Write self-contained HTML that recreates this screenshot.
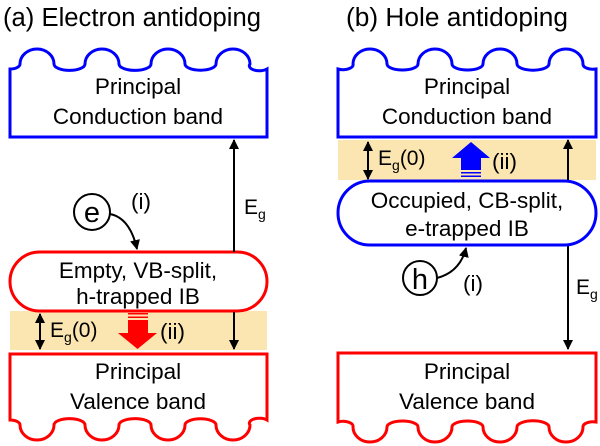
<!DOCTYPE html>
<html><head><meta charset="utf-8"><style>
html,body{margin:0;padding:0;background:#fff;}
svg{display:block;font-family:"Liberation Sans",sans-serif;}
</style></head><body>
<svg width="600" height="446" viewBox="0 0 600 446" xmlns="http://www.w3.org/2000/svg">
<defs>
<marker id="ah" viewBox="0 0 10 10" refX="9" refY="5" markerWidth="10" markerHeight="10" markerUnits="userSpaceOnUse" orient="auto"><path d="M0,0 L10,5 L0,10 z" fill="#000"/></marker>
</defs>
<!-- titles -->
<text x="3" y="26" font-size="25.5" textLength="258" lengthAdjust="spacingAndGlyphs">(a) Electron antidoping</text>
<text x="346" y="26" font-size="25.5" textLength="222" lengthAdjust="spacingAndGlyphs">(b) Hole antidoping</text>

<!-- yellow bands -->
<rect x="10" y="311" width="257" height="39" fill="#fbe5b0"/>
<rect x="338" y="140" width="258" height="40" fill="#fbe5b0"/>

<!-- (a) CB -->
<path d="M10,137 L10,69 A10,5 0 0 0 20,64 A17,15 0 0 1 54,64 A14.5,6 0 0 0 85,64 A17,15 0 0 1 119,64 A15,6 0 0 0 151,64 A17,15 0 0 1 185,64 A15,6 0 0 0 216,64 A17,15 0 0 1 250,64 A10,5 0 0 0 267,69 L267,137 Z" fill="#fff" stroke="#0000ff" stroke-width="3"/>
<text x="138" y="94" font-size="22.5" text-anchor="middle">Principal</text>
<text x="138" y="124" font-size="22.5" text-anchor="middle">Conduction band</text>

<!-- (a) IB -->
<rect x="10" y="252" width="257" height="59" rx="29.5" fill="#fff" stroke="#ff0000" stroke-width="3"/>
<text x="138" y="278" font-size="22.5" text-anchor="middle">Empty, VB-split,</text>
<text x="138" y="304" font-size="22.5" text-anchor="middle">h-trapped IB</text>

<!-- (a) VB -->
<path d="M10,354 L10,420 A10,5 0 0 1 20,425 A17,15 0 0 0 54,425 A14.5,6 0 0 1 85,425 A17,15 0 0 0 119,425 A15,6 0 0 1 151,425 A17,15 0 0 0 185,425 A15,6 0 0 1 216,425 A17,15 0 0 0 250,425 A10,5 0 0 1 267,420 L267,354 Z" fill="#fff" stroke="#ff0000" stroke-width="3"/>
<text x="138" y="379" font-size="22.5" text-anchor="middle">Principal</text>
<text x="138" y="409" font-size="22.5" text-anchor="middle">Valence band</text>

<!-- (a) arrows -->
<line x1="234" y1="252" x2="234" y2="140" stroke="#000" stroke-width="2" marker-end="url(#ah)"/>
<line x1="234" y1="312" x2="234" y2="349" stroke="#000" stroke-width="2" marker-end="url(#ah)"/>
<text x="244" y="214" font-size="21">E<tspan font-size="14" dy="5">g</tspan></text>
<line x1="40" y1="331" x2="40" y2="314" stroke="#000" stroke-width="2" marker-end="url(#ah)"/>
<line x1="40" y1="331" x2="40" y2="349" stroke="#000" stroke-width="2" marker-end="url(#ah)"/>
<text x="50" y="337" font-size="21">E<tspan font-size="14" dy="5">g</tspan><tspan dy="-5">(0)</tspan></text>
<g fill="#ff0000">
<rect x="128" y="313" width="20" height="1.5"/>
<rect x="128" y="316.5" width="20" height="1.5"/>
<rect x="128" y="320" width="20" height="13"/>
<polygon points="118,333 157,333 137.5,349"/>
</g>
<text x="160" y="339" font-size="22.5">(ii)</text>
<circle cx="92" cy="212" r="18" fill="#fff" stroke="#000" stroke-width="2"/>
<text x="92" y="222" font-size="29" text-anchor="middle">e</text>
<text x="131" y="209" font-size="22.5">(i)</text>
<path d="M110,214 Q130,218 137,249" fill="none" stroke="#000" stroke-width="2" marker-end="url(#ah)"/>

<!-- (b) CB -->
<path d="M338,137 L338,69 A10,5 0 0 0 353,64 A17,15 0 0 1 387,64 A15.5,6 0 0 0 418,64 A17,15 0 0 1 452,64 A15.5,6 0 0 0 483,64 A17,15 0 0 1 517,64 A15.5,6 0 0 0 549,64 A17,15 0 0 1 583,64 A10,5 0 0 0 596,69 L596,137 Z" fill="#fff" stroke="#0000ff" stroke-width="3"/>
<text x="467" y="94" font-size="22.5" text-anchor="middle">Principal</text>
<text x="467" y="124" font-size="22.5" text-anchor="middle">Conduction band</text>

<!-- (b) IB -->
<line x1="568" y1="180" x2="568" y2="140" stroke="#000" stroke-width="2" marker-end="url(#ah)"/>
<line x1="568" y1="245" x2="568" y2="349" stroke="#000" stroke-width="2" marker-end="url(#ah)"/>
<rect x="338" y="181" width="258" height="64" rx="32" fill="#fff" stroke="#0000ff" stroke-width="3"/>
<text x="467" y="208" font-size="22.5" text-anchor="middle">Occupied, CB-split,</text>
<text x="467" y="236" font-size="22.5" text-anchor="middle">e-trapped IB</text>

<!-- (b) VB -->
<path d="M338,353 L338,422 A10,5 0 0 1 353,427 A17,15 0 0 0 387,427 A15.5,6 0 0 1 418,427 A17,15 0 0 0 452,427 A15.5,6 0 0 1 483,427 A17,15 0 0 0 517,427 A15.5,6 0 0 1 549,427 A17,15 0 0 0 583,427 A10,5 0 0 1 596,422 L596,353 Z" fill="#fff" stroke="#ff0000" stroke-width="3"/>
<text x="467" y="379" font-size="22.5" text-anchor="middle">Principal</text>
<text x="467" y="409" font-size="22.5" text-anchor="middle">Valence band</text>

<!-- (b) arrows -->
<text x="576" y="294" font-size="21">E<tspan font-size="14" dy="5">g</tspan></text>
<line x1="368" y1="160" x2="368" y2="142" stroke="#000" stroke-width="2" marker-end="url(#ah)"/>
<line x1="368" y1="160" x2="368" y2="179" stroke="#000" stroke-width="2" marker-end="url(#ah)"/>
<text x="378" y="165" font-size="21">E<tspan font-size="14" dy="5">g</tspan><tspan dy="-5">(0)</tspan></text>
<g fill="#0000ff">
<polygon points="452,158 490,158 471,142"/>
<rect x="461" y="158" width="20" height="12"/>
<rect x="461" y="172" width="20" height="1.5"/>
<rect x="461" y="175.5" width="20" height="1.5"/>
</g>
<text x="492" y="169" font-size="22.5">(ii)</text>
<circle cx="420" cy="278" r="17" fill="#fff" stroke="#000" stroke-width="2"/>
<text x="420" y="289" font-size="29" text-anchor="middle">h</text>
<text x="463" y="291" font-size="22.5">(i)</text>
<path d="M437,278 Q460,272 466,248" fill="none" stroke="#000" stroke-width="2" marker-end="url(#ah)"/>
</svg>
</body></html>
